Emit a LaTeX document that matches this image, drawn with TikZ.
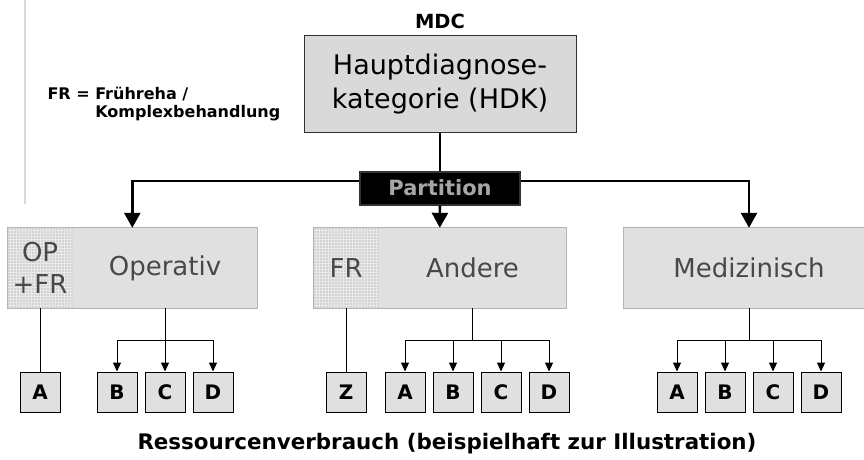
\documentclass[tikz,border=0pt]{standalone}
\usepackage{fontspec}
\setmainfont{DejaVu Sans}
\usetikzlibrary{arrows.meta,positioning,calc,patterns}
\definecolor{BoxGray}{RGB}{224,224,224}
\definecolor{HeadGray}{RGB}{217,217,217}
\definecolor{EdgeGray}{RGB}{180,180,180}
\definecolor{TextGray}{RGB}{72,72,72}
\pgfdeclarepatternformonly{frdots}{\pgfqpoint{-1pt}{-1pt}}{\pgfqpoint{1pt}{1pt}}%
  {\pgfqpoint{3pt}{3pt}}{\pgfpathcircle{\pgfqpoint{0pt}{0pt}}{.7pt}\pgfusepath{fill}}
\tikzset{
  hbox/.style={rectangle,draw=black!80,fill=HeadGray,line width=1pt,align=center,
               font=\fontsize{27}{34}\selectfont,minimum width=272pt,minimum height=96pt,
               inner sep=0pt},
  pbox/.style={rectangle,draw=black!80,fill=black,line width=2pt,text=black!35,
               font=\fontsize{21}{24}\selectfont\bfseries,minimum width=160pt,
               minimum height=33pt,inner sep=0pt},
  cbox/.style={rectangle,fill=BoxGray,text=TextGray,font=\fontsize{26}{32}\selectfont,
               minimum height=80pt,inner sep=0pt,align=center},
  frbox/.style={rectangle,preaction={fill=BoxGray!70},pattern=frdots,
                pattern color=black!45,text=TextGray,font=\fontsize{26}{32}\selectfont,
                minimum height=80pt,minimum width=65pt,inner sep=0pt,align=center},
  leaf/.style={rectangle,draw=black,fill=BoxGray,line width=1pt,
               font=\fontsize{20}{22}\selectfont\bfseries,minimum size=40pt,inner sep=0pt},
  btext/.style={font=\fontsize{19.5}{22}\selectfont\bfseries},
  bigline/.style={line width=2.5pt},
  bigedge/.style={line width=2.5pt,-{Triangle[width=16pt,length=15pt]}},
  tline/.style={line width=1pt},
  tedge/.style={line width=1pt,-{Triangle[width=8pt,length=9pt]}},
}

\begin{document}
\begin{tikzpicture}[x=1pt,y=-1pt]
  \useasboundingbox (0,0) rectangle (864,460);
  \draw[black!15,line width=1.5pt] (25,0) -- (25,204);
  % top
  \node[btext] (mdc) at (440,21) {MDC};
  \node[hbox] (hdk) at (440,84) {Hauptdiagnose-\\kategorie (HDK)};
  \node[font=\fontsize{16}{18}\selectfont\bfseries,align=left,anchor=north west] (legend)
    at (44,84) {FR = Frühreha /\\\phantom{FR = }Komplexbehandlung};
  \node[pbox] (part) at (440,188) {Partition};
  %
  \node[cbox,minimum width=184pt] (op) at (165,268) {Operativ};
  \node[frbox,anchor=east] (opfr) at (op.west) {OP\\+FR};
  \draw[EdgeGray,line width=1pt] (opfr.north west) rectangle (op.south east);
  \node[cbox,minimum width=187pt] (and) at (472.5,268) {Andere};
  \node[frbox,anchor=east] (andfr) at (and.west) {FR};
  \draw[EdgeGray,line width=1pt] (andfr.north west) rectangle (and.south east);
  \node[cbox,minimum width=250pt] (med) at (749,268) {Medizinisch};
  \draw[EdgeGray,line width=1pt] (med.north west) rectangle (med.south east);
  %
  \draw[bigline] (hdk.south) -- (part.north);
  \draw[bigedge] ([yshift=7pt]part.west) -| ($(opfr.north west)!.5!(op.north east)$);
  \draw[bigedge] ([yshift=7pt]part.east) -| (med.north);
  \draw[bigedge] (part.south) -- ($(andfr.north west)!.5!(and.north east)$);
  % leaves
  \node[leaf] (oA) at (opfr.south |- 0,392) {A};
  \node[leaf] (oB) at (117,392) {B};
  \node[leaf] (oC) at (165,392) {C};
  \node[leaf] (oD) at (213,392) {D};
  \node[leaf] (aZ) at (andfr.south |- 0,392) {Z};
  \node[leaf] (aA) at (405,392) {A};
  \node[leaf] (aB) at (453,392) {B};
  \node[leaf] (aC) at (501,392) {C};
  \node[leaf] (aD) at (549,392) {D};
  \node[leaf] (mA) at (677,392) {A};
  \node[leaf] (mB) at (725,392) {B};
  \node[leaf] (mC) at (773,392) {C};
  \node[leaf] (mD) at (821,392) {D};
  %
  \draw[tline] (opfr.south) -- (oA.north);
  \coordinate (ob) at (165,340);
  \draw[tline] (op.south) -- (ob);
  \draw[tedge] (ob) -| (oB.north);
  \draw[tedge] (ob) -- (oC.north);
  \draw[tedge] (ob) -| (oD.north);
  %
  \draw[tline] (andfr.south) -- (aZ.north);
  \coordinate (ab) at (and.south |- 0,340);
  \draw[tline] (and.south) -- (ab);
  \draw[tedge] (ab) -| (aA.north);
  \draw[tedge] (ab) -| (aB.north);
  \draw[tedge] (ab) -| (aC.north);
  \draw[tedge] (ab) -| (aD.north);
  %
  \coordinate (mb) at (749,340);
  \draw[tline] (med.south) -- (mb);
  \draw[tedge] (mb) -| (mA.north);
  \draw[tedge] (mb) -| (mB.north);
  \draw[tedge] (mb) -| (mC.north);
  \draw[tedge] (mb) -| (mD.north);
  %
  \node[font=\fontsize{21.4}{24}\selectfont\bfseries] (ress) at (447,444)
    {Ressourcenverbrauch (beispielhaft zur Illustration)};
\end{tikzpicture}
\end{document}
